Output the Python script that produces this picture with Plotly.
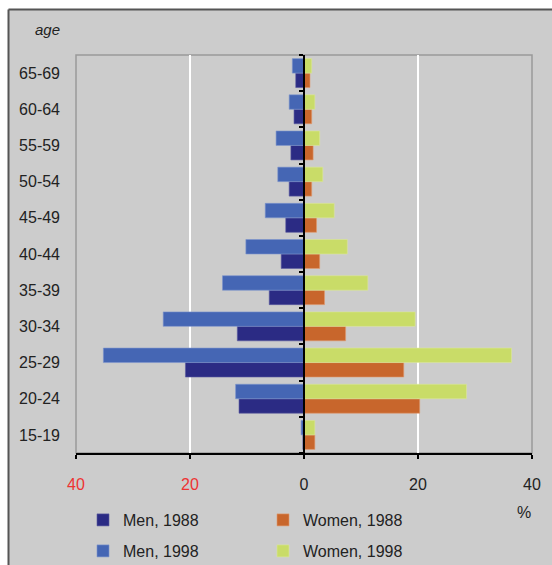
import plotly.graph_objects as go

# Age groups, bottom to top
ages = ["15-19", "20-24", "25-29", "30-34", "35-39", "40-44",
        "45-49", "50-54", "55-59", "60-64", "65-69"]

# Share of each sex by age group, %
men_1988 = [0.2, 11.4, 20.8, 11.7, 6.1, 4.0, 3.2, 2.6, 2.3, 1.75, 1.45]
men_1998 = [0.5, 12.0, 35.2, 24.7, 14.3, 10.2, 6.8, 4.6, 4.9, 2.6, 2.05]
women_1988 = [1.9, 20.3, 17.5, 7.3, 3.6, 2.75, 2.2, 1.35, 1.6, 1.35, 1.05]
women_1998 = [1.9, 28.5, 36.4, 19.5, 11.2, 7.6, 5.3, 3.3, 2.75, 1.9, 1.35]

tick_vals = [-40, -20, 0, 20, 40]
tick_text = ['<span style="color:#ee3333">40</span>',
             '<span style="color:#ee3333">20</span>', "0", "20", "40"]

W, H = 552, 565
L, R, T, B = 76, 20, 55, 112
PW, PH = W - L - R, H - T - B


def px(x):
    return (x - L) / PW


def py(y):
    return (H - B - y) / PH


FONT = "Arial, Liberation Sans, sans-serif"
C_MEN88, C_MEN98 = "#2b2b84", "#4566b4"
C_WOM88, C_WOM98 = "#c8662c", "#c9dc68"

fig = go.Figure()

series = [
    ("Men, 1988", [-v for v in men_1988], C_MEN88, -0.4, "legend", "#5a5aa0"),
    ("Women, 1988", women_1988, C_WOM88, -0.4, "legend", "#e09a70"),
    ("Men, 1998", [-v for v in men_1998], C_MEN98, 0.0, "legend2", "#7d96cc"),
    ("Women, 1998", women_1998, C_WOM98, 0.0, "legend2", "#dbe89a"),
]
for name, vals, color, off, leg, edge in series:
    fig.add_trace(go.Bar(
        y=ages, x=vals, orientation="h", name=name,
        width=0.4, offset=off,
        marker=dict(color=color, line=dict(color=edge, width=0.6)),
        legend=leg, hoverinfo="x+y+name",
    ))

# invisible trace so the zero axis (y2) is drawn with its boundary ticks
fig.add_trace(go.Scatter(
    y=ages, x=[0] * len(ages), yaxis="y2", mode="markers",
    marker=dict(opacity=0), showlegend=False, hoverinfo="skip",
))

legend_common = dict(
    orientation="h", xanchor="left", yanchor="middle",
    entrywidth=135, entrywidthmode="pixels",
    bgcolor="rgba(0,0,0,0)", font=dict(family=FONT, size=16, color="#222222"),
    traceorder="normal",
)

fig.update_layout(
    width=W, height=H,
    margin=dict(l=L, r=R, t=T, b=B, pad=0, autoexpand=False),
    paper_bgcolor="white",
    plot_bgcolor="#cccccc",
    barmode="overlay",
    font=dict(family=FONT, size=16, color="#222222"),
    xaxis=dict(
        range=[-40, 40], tickvals=tick_vals, ticktext=tick_text,
        showgrid=False, zeroline=False,
        minor=dict(tickvals=[-20, 20], showgrid=True, gridcolor="white",
                   gridwidth=2, ticks=""),
        showline=True, linecolor="black", linewidth=1.5,
        ticks="outside", ticklen=4, tickcolor="black", tickwidth=1.5,
        ticklabelstandoff=12,
        tickfont=dict(family=FONT, size=16, color="#222222"),
        fixedrange=True,
    ),
    yaxis=dict(
        type="category", categoryarray=ages, range=[-0.5, len(ages) - 0.5],
        showgrid=False, zeroline=False, showline=False, ticks="",
        ticklabelstandoff=15,
        tickfont=dict(family=FONT, size=16, color="#222222"),
        fixedrange=True,
    ),
    yaxis2=dict(
        type="category", categoryarray=ages, range=[-0.5, len(ages) - 0.5],
        overlaying="y", anchor="free", position=0.5, side="left",
        showgrid=False, zeroline=False, showticklabels=False,
        showline=True, linecolor="black", linewidth=1.5,
        ticks="outside", ticklen=4, tickcolor="black", tickwidth=1.5,
        tickson="boundaries", fixedrange=True,
    ),
    legend=dict(x=px(83), y=py(520), **legend_common),
    legend2=dict(x=px(83), y=py(551), **legend_common),
    shapes=[
        # grey chart area with dark edge on top and left
        dict(type="rect", xref="paper", yref="paper",
             x0=px(9), x1=px(W + 10), y0=py(H + 10), y1=py(10),
             fillcolor="#cccccc", line=dict(width=0), layer="below"),
        dict(type="line", xref="paper", yref="paper",
             x0=px(8.5), x1=px(8.5), y0=py(H + 10), y1=py(9.5),
             line=dict(color="#555555", width=2)),
        dict(type="line", xref="paper", yref="paper",
             x0=px(8.5), x1=px(W + 10), y0=py(9.5), y1=py(9.5),
             line=dict(color="#555555", width=2)),
        # plot frame
        dict(type="rect", xref="paper", yref="paper",
             x0=0, x1=1, y0=0, y1=1,
             line=dict(color="#999999", width=1.5), layer="below"),
    ],
    annotations=[
        dict(text="<i>age</i>", xref="paper", yref="paper",
             x=px(47), y=py(29), xanchor="center", yanchor="middle",
             showarrow=False,
             font=dict(family=FONT, size=15, color="#222222")),
        dict(text="%", xref="paper", yref="paper",
             x=px(524), y=py(512), xanchor="center", yanchor="middle",
             showarrow=False,
             font=dict(family=FONT, size=16, color="#222222")),
    ],
)

fig.write_html("out.html")
